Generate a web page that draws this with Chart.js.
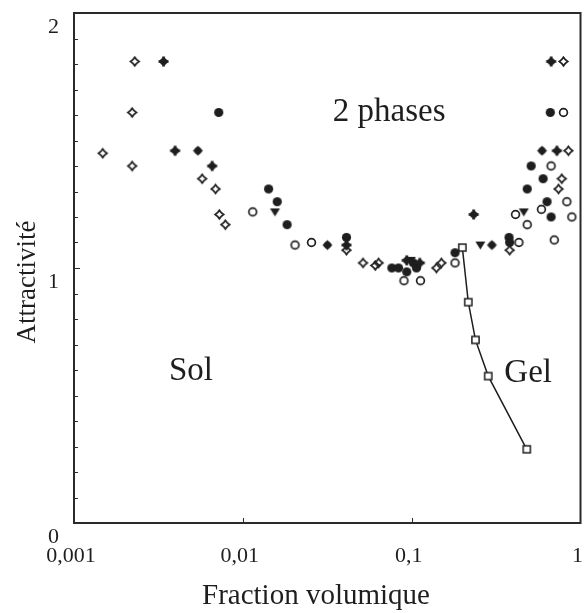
<!DOCTYPE html>
<html>
<head>
<meta charset="utf-8">
<title>Attractivité</title>
<script src="https://cdn.jsdelivr.net/npm/chart.js@4.4.1/dist/chart.umd.min.js"></script>
<style>
  html, body { margin: 0; padding: 0; background: #fff; }
  #wrap { width: 588px; height: 613px; }
</style>
</head>
<body>
<div id="wrap"><canvas id="phaseChart" width="588" height="613"></canvas></div>
<script>
// axis ticks
const xTicks = [0.001, 0.01, 0.1, 1];
const yTicks = [0, 1, 2];

// open diamonds
const openDiamondX = [0.00229, 0.00221, 0.00148, 0.00221, 0.00574, 0.00689, 0.00726, 0.00788, 0.0411, 0.0515, 0.0609, 0.0637, 0.1401, 0.150, 0.3806, 0.793, 0.848, 0.775, 0.741];
const openDiamondY = [1.81, 1.61, 1.45, 1.40, 1.35, 1.31, 1.21, 1.17, 1.07, 1.02, 1.01, 1.02, 1.00, 1.02, 1.07, 1.81, 1.46, 1.35, 1.31];

// filled stars
const filledStarX = [0.00339, 0.00397, 0.00658, 0.0411, 0.0935, 0.1117, 0.2328, 0.670, 0.725];
const filledStarY = [1.81, 1.46, 1.40, 1.09, 1.03, 1.02, 1.21, 1.81, 1.46];

// filled diamonds
const filledDiamondX = [0.00542, 0.0317, 0.2987, 0.592];
const filledDiamondY = [1.46, 1.09, 1.09, 1.46];

// filled circles
const filledCircleX = [0.0072, 0.01421, 0.01598, 0.01828, 0.0411, 0.0763, 0.0836, 0.0935, 0.1022, 0.1068, 0.1807, 0.3774, 0.3806, 0.4837, 0.5102, 0.6006, 0.6335, 0.6622, 0.6697];
const filledCircleY = [1.61, 1.31, 1.26, 1.17, 1.12, 1.00, 1.00, 0.985, 1.02, 1.00, 1.06, 1.12, 1.10, 1.31, 1.40, 1.35, 1.26, 1.61, 1.20];

// open circles
const openCircleX = [0.01144, 0.02037, 0.0255, 0.0900, 0.1128, 0.1807, 0.4124, 0.4316, 0.4837, 0.5868, 0.6697, 0.6995, 0.793, 0.830, 0.8887];
const openCircleY = [1.22, 1.09, 1.10, 0.95, 0.95, 1.02, 1.21, 1.10, 1.17, 1.23, 1.40, 1.11, 1.61, 1.26, 1.20];

// filled triangles
const filledTriangleX = [0.0155, 0.0989, 0.2551, 0.4613];
const filledTriangleY = [1.22, 1.03, 1.09, 1.22];

// sol/gel boundary
const gelLineX = [0.1996, 0.2165, 0.2387, 0.2841, 0.4805];
const gelLineY = [1.08, 0.866, 0.718, 0.576, 0.289];

const serif = "'Liberation Serif', 'Times New Roman', serif";
const ink = '#1e1e1e';

function pts(xs, ys) {
  return xs.map((x, i) => ({ x: x, y: ys[i] }));
}

// small canvas markers
function marker(kind) {
  const c = document.createElement('canvas');
  c.width = 13; c.height = 13;
  const g = c.getContext('2d');
  g.translate(6.5, 6.5);
  g.fillStyle = ink;
  g.strokeStyle = ink;
  g.lineWidth = 1.7;
  g.beginPath();
  if (kind === 'openDiamond') {
    const r = 4.3, k = 1.6;
    g.moveTo(0, -r); g.lineTo(k, -k - 0.6); g.lineTo(r, 0); g.lineTo(k, k + 0.6);
    g.lineTo(0, r); g.lineTo(-k, k + 0.6); g.lineTo(-r, 0); g.lineTo(-k, -k - 0.6);
    g.closePath();
    g.stroke();
  } else if (kind === 'filledStar') {
    g.arc(0, 0, 3.6, 0, Math.PI * 2);
    g.fill();
    g.fillRect(-1.4, -5, 2.8, 10);
    g.fillRect(-5, -1.4, 10, 2.8);
  } else if (kind === 'filledDiamond') {
    g.moveTo(0, -5); g.lineTo(5, 0); g.lineTo(0, 5); g.lineTo(-5, 0);
    g.closePath();
    g.fill();
    g.beginPath();
    g.arc(0, 0, 3.4, 0, Math.PI * 2);
    g.fill();
  } else if (kind === 'filledCircle') {
    g.arc(0, 0, 4.6, 0, Math.PI * 2);
    g.fill();
  } else if (kind === 'openCircle') {
    g.arc(0, 0, 3.9, 0, Math.PI * 2);
    g.stroke();
  } else if (kind === 'filledTriangle') {
    g.moveTo(-5, -3.5); g.lineTo(5, -3.5); g.lineTo(0, 4.5);
    g.closePath();
    g.fill();
  } else if (kind === 'openSquare') {
    g.lineWidth = 1.5;
    g.rect(-3.6, -3.6, 7.2, 7.2);
    g.fillStyle = '#fff';
    g.fill();
    g.stroke();
  }
  return c;
}

function scatterSet(label, xs, ys, kind) {
  return {
    label: label,
    data: pts(xs, ys),
    pointStyle: marker(kind),
    pointRadius: 6,
    showLine: false
  };
}

// frame, inner ticks, axis titles and region labels
const decorations = {
  id: 'decorations',
  afterDatasetsDraw(chart) {
    const { ctx, chartArea: a, scales } = chart;
    ctx.save();
    ctx.strokeStyle = '#2a2a2a';
    ctx.lineWidth = 2;
    ctx.strokeRect(a.left, a.top, a.right - a.left, a.bottom - a.top);

    ctx.lineWidth = 1;
    for (let v = 1; v < 20; v++) {
      const y = Math.round(scales.y.getPixelForValue(v / 10)) + 0.5;
      ctx.beginPath();
      ctx.moveTo(a.left, y);
      ctx.lineTo(a.left + (v === 10 ? 6 : 4), y);
      ctx.stroke();
    }
    [0.01, 0.1].forEach(v => {
      const x = Math.round(scales.x.getPixelForValue(v)) + 0.5;
      ctx.beginPath();
      ctx.moveTo(x, a.bottom);
      ctx.lineTo(x, a.bottom - 5);
      ctx.stroke();
    });

    ctx.fillStyle = ink;
    ctx.textAlign = 'center';
    ctx.textBaseline = 'middle';
    ctx.font = '33px ' + serif;
    ctx.fillText('2 phases', scales.x.getPixelForValue(0.0736), scales.y.getPixelForValue(1.61));
    ctx.fillText('Sol', scales.x.getPixelForValue(0.00493), scales.y.getPixelForValue(0.595));
    ctx.fillText('Gel', scales.x.getPixelForValue(0.49), scales.y.getPixelForValue(0.585));

    ctx.font = '29px ' + serif;
    ctx.fillText('Fraction volumique', 316, 596);

    ctx.translate(28, 282);
    ctx.rotate(-Math.PI / 2);
    ctx.font = '27px ' + serif;
    ctx.fillText('Attractivité', 0, 0);
    ctx.restore();
  }
};

new Chart(document.getElementById('phaseChart'), {
  type: 'scatter',
  data: {
    datasets: [
      scatterSet('Losanges ouverts', openDiamondX, openDiamondY, 'openDiamond'),
      scatterSet('Étoiles', filledStarX, filledStarY, 'filledStar'),
      scatterSet('Losanges pleins', filledDiamondX, filledDiamondY, 'filledDiamond'),
      scatterSet('Cercles pleins', filledCircleX, filledCircleY, 'filledCircle'),
      scatterSet('Cercles ouverts', openCircleX, openCircleY, 'openCircle'),
      scatterSet('Triangles', filledTriangleX, filledTriangleY, 'filledTriangle'),
      {
        label: 'Limite sol-gel',
        data: pts(gelLineX, gelLineY),
        pointStyle: marker('openSquare'),
        pointRadius: 6,
        showLine: true,
        borderColor: ink,
        borderWidth: 1.5,
        tension: 0
      }
    ]
  },
  options: {
    responsive: false,
    animation: false,
    layout: { padding: { top: 13, right: 3, left: 0, bottom: 0 } },
    plugins: { legend: { display: false }, tooltip: { enabled: false } },
    scales: {
      x: {
        type: 'logarithmic',
        min: 0.001,
        max: 1,
        grid: { display: false, drawTicks: false },
        border: { display: false },
        afterBuildTicks: s => { s.ticks = xTicks.map(v => ({ value: v })); },
        afterFit: s => { s.height = 90; s.paddingLeft = 0; s.paddingRight = 0; },
        ticks: {
          autoSkip: false,
          maxRotation: 0,
          padding: 20,
          labelOffset: -3,
          color: ink,
          font: { family: serif, size: 22 },
          callback: v => String(v).replace('.', ',')
        }
      },
      y: {
        min: 0,
        max: 2,
        grid: { display: false, drawTicks: false },
        border: { display: false },
        afterBuildTicks: s => { s.ticks = yTicks.map(v => ({ value: v })); },
        afterFit: s => { s.width = 74; s.paddingTop = 0; s.paddingBottom = 0; },
        ticks: {
          padding: 15,
          labelOffset: 14,
          color: ink,
          font: { family: serif, size: 22 }
        }
      }
    }
  },
  plugins: [decorations]
});
</script>
</body>
</html>
